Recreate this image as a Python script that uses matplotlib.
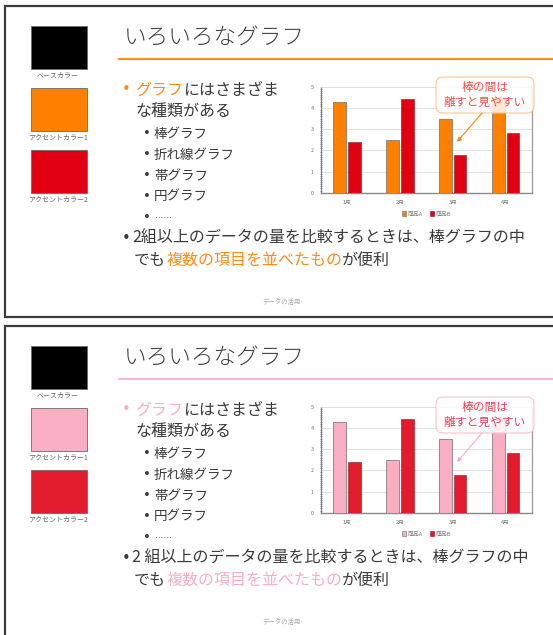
import matplotlib
matplotlib.use("Agg")
import matplotlib.pyplot as plt
from matplotlib.patches import Rectangle, FancyBboxPatch, Patch
from matplotlib.ticker import MultipleLocator

plt.rcParams['font.family'] = ['Noto Sans CJK JP', 'DejaVu Sans']

# ---- data ----
months = ["1月", "2月", "3月", "4月"]
series_names = ["商品A", "商品B"]
prod_a = [4.3, 2.5, 3.5, 4.5]
prod_b = [2.4, 4.4, 1.8, 2.8]

swatch_labels = ["ベースカラー", "アクセントカラー1", "アクセントカラー2"]
theme_orange = ["#000000", "#FF8000", "#E00012"]
theme_pink = ["#000000", "#F9AFC1", "#E21B2D"]

title_text = "いろいろなグラフ"
sub_items = ["棒グラフ", "折れ線グラフ", "帯グラフ", "円グラフ"]
callout_lines = ["棒の間は", "離すと見やすい"]
footer_text = "データの活用"

W, H = 553, 635
fig = plt.figure(figsize=(W / 100, H / 100), dpi=100)
bg = fig.add_axes([0, 0, 1, 1])
bg.set_xlim(0, W)
bg.set_ylim(H, 0)
bg.axis("off")
top = fig.add_axes([0, 0, 1, 1], zorder=5)
top.set_xlim(0, W)
top.set_ylim(H, 0)
top.axis("off")
renderer = fig.canvas.get_renderer()

TXT = "#3a3a3a"
BODY = 11.5


def put_runs(x, y, runs, size):
    # draw pieces of text one after another, each in its own colour
    for s, c in runs:
        t = bg.text(x, y, s, fontsize=size, color=c, ha="left", va="center")
        x += t.get_window_extent(renderer).width


def bullet(x, y, color, size):
    bg.text(x, y, "•", fontsize=size, color=color, ha="center", va="center",
            family="DejaVu Sans")


def draw_slide(dy, colors, hl_text, edge_col, call_col, first_line):
    accent, accent2 = colors[1], colors[2]

    # slide frame
    bg.plot([560, 5, 5, 560], [6 + dy, 6 + dy, 317 + dy, 317 + dy],
            color="#3c3c3c", lw=1.6, solid_joinstyle="miter")

    # colour swatches
    for i, (c, lab) in enumerate(zip(colors, swatch_labels)):
        y0 = 26 + 62 * i + dy
        bg.add_patch(Rectangle((31, y0), 56, 43, facecolor=c, edgecolor="#6a6a6a", lw=0.6))
        bg.text(58, y0 + 50, lab, fontsize=5, color="#666666", ha="center", va="center")

    # title
    bg.text(124, 38 + dy, title_text, fontsize=16.3, color="#404040",
            ha="left", va="center", fontweight="light")
    bg.plot([119, 553], [58.5 + dy, 58.5 + dy], color=accent, lw=1.3)

    # bullets
    bullet(126, 90 + dy, hl_text, 10.5)
    put_runs(135, 90 + dy, [("グラフ", hl_text), ("にはさまざま", TXT)], BODY)
    put_runs(135, 111.5 + dy, [("な種類がある", TXT)], BODY)
    for k, item in enumerate(sub_items):
        bullet(147, 134 + 20.8 * k + dy, TXT, 9.5)
        put_runs(154, 134 + 20.8 * k + dy, [(item, TXT)], 9.7)
    bullet(147, 217 + dy, TXT, 9.5)
    bg.text(155, 216 + dy, "……", fontsize=6, color=TXT, ha="left", va="center",
            family="DejaVu Sans")
    bullet(126, 238.5 + dy, TXT, 10.5)
    put_runs(132, 238.5 + dy, [(first_line, TXT)], BODY)
    put_runs(134, 260 + dy, [("でも", TXT), ("複数の項目を並べたもの", hl_text), ("が便利", TXT)], BODY)

    # footer
    bg.text(282, 302 + dy, footer_text, fontsize=4.6, color="#a8a8a8", ha="center", va="center")

    # bar chart
    ax = fig.add_axes([320.7 / W, 1 - (192.7 + dy) / H, 211.3 / W, 106 / H], zorder=2)
    x = list(range(len(months)))
    ax.bar([v - 0.14 for v in x], prod_a, 0.24, color=accent, edgecolor="#6e6e6e",
           lw=0.5, zorder=3, label=series_names[0])
    ax.bar([v + 0.14 for v in x], prod_b, 0.24, color=accent2, edgecolor="#8a1520",
           lw=0.4, zorder=3, label=series_names[1])
    ax.set_xlim(-0.5, len(months) - 0.5)
    ax.set_ylim(0, 5)
    ax.set_xticks(x)
    ax.set_xticklabels(months)
    ax.set_yticks(range(6))
    ax.yaxis.set_minor_locator(MultipleLocator(0.1))
    ax.tick_params(axis="both", labelsize=4, colors="#777777", length=0)
    ax.tick_params(axis="x", pad=5)
    ax.tick_params(axis="y", pad=5)
    ax.tick_params(axis="y", which="minor", length=2, width=0.5, color="#707070", direction="inout")
    ax.grid(axis="y", color="#dedede", lw=0.6, zorder=0)
    ax.spines["left"].set_color("#7a7a7a")
    ax.spines["left"].set_linewidth(0.9)
    ax.spines["bottom"].set_color("#8a8a8a")
    ax.spines["bottom"].set_linewidth(1.0)
    ax.spines["right"].set_color("#9a9a9a")
    ax.spines["right"].set_linewidth(0.9)
    ax.spines["top"].set_color("#e0e0e0")
    ax.spines["top"].set_linewidth(0.6)
    handles = [Patch(facecolor=accent, edgecolor="#6e6e6e", lw=0.4),
               Patch(facecolor=accent2, edgecolor="#8a1520", lw=0.4)]
    ax.legend(handles, series_names, loc="center", bbox_to_anchor=(0.5, -0.2),
              ncol=2, frameon=False, fontsize=4.2, handlelength=0.7, handleheight=0.7,
              handletextpad=0.3, columnspacing=1.2, labelcolor="#777777")

    # callout
    top.add_patch(FancyBboxPatch((436, 77 + dy), 98, 36,
                                 boxstyle="round,pad=0,rounding_size=7",
                                 facecolor=(1, 1, 1, 0.82), edgecolor=edge_col, lw=0.8))
    top.text(485, 87 + dy, callout_lines[0], fontsize=8.5, color=call_col, ha="center", va="center")
    top.text(485, 102.5 + dy, callout_lines[1], fontsize=8.5, color=call_col, ha="center", va="center")
    top.annotate("", xy=(457, 142 + dy), xytext=(482, 113 + dy),
                 arrowprops=dict(arrowstyle="-|>", color=accent, lw=0.8, mutation_scale=6,
                                 shrinkA=0, shrinkB=0))


draw_slide(0, theme_orange, "#FF8C1A", "#FAC898", "#F0504A",
           "2組以上のデータの量を比較するときは、棒グラフの中")
draw_slide(320, theme_pink, "#F9AFC1", "#F9C3CF", "#E8405A",
           "2 組以上のデータの量を比較するときは、棒グラフの中")

fig.savefig("out.png", dpi=100)
print("saved")
